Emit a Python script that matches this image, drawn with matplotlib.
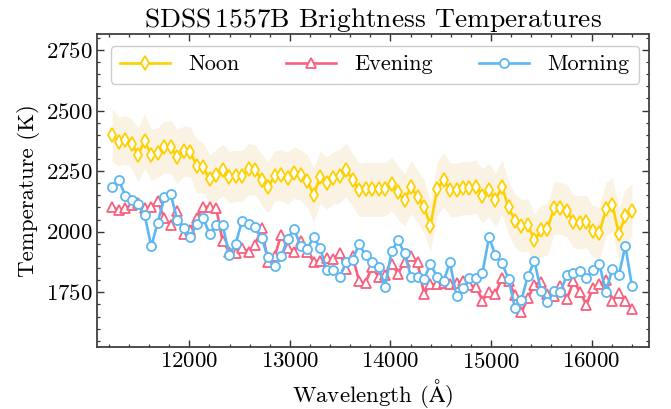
import matplotlib
matplotlib.use('Agg')
import matplotlib.pyplot as plt
from matplotlib.ticker import MultipleLocator
import numpy as np

wavelength = [11233, 11298, 11362, 11427, 11491, 11556, 11621, 11685, 11750, 11814,
              11879, 11944, 12008, 12073, 12137, 12202, 12267, 12331, 12396, 12460,
              12525, 12590, 12654, 12719, 12783, 12848, 12913, 12977, 13042, 13106,
              13171, 13236, 13300, 13365, 13429, 13494, 13559, 13623, 13688, 13752,
              13817, 13882, 13946, 14011, 14075, 14140, 14205, 14269, 14334, 14398,
              14463, 14528, 14592, 14657, 14721, 14786, 14851, 14915, 14980, 15044,
              15109, 15174, 15238, 15303, 15367, 15432, 15497, 15561, 15626, 15690,
              15755, 15820, 15884, 15949, 16013, 16078, 16143, 16207, 16272, 16336,
              16401]

noon = [2399, 2372, 2379, 2362, 2317, 2375, 2317, 2326, 2349, 2349, 2310, 2333, 2330, 2272, 2265,
        2217, 2234, 2255, 2225, 2230, 2230, 2259, 2255, 2214, 2184, 2230, 2234, 2221, 2244,
        2234, 2211, 2152, 2225, 2200, 2221, 2230, 2255, 2214, 2173, 2175, 2175, 2175, 2175, 2197,
        2162, 2131, 2184, 2145, 2104, 2024, 2175, 2214, 2173, 2173, 2180, 2180, 2186, 2148,
        2173, 2131, 2184, 2101, 2046, 2024, 2028, 1966, 2005, 2010, 2097, 2097, 2087, 2042,
        2038, 2042, 2001, 1994, 2093, 2111, 1991, 2065, 2087]

noon_err = [110, 100, 100, 102, 110, 113, 106, 103, 106, 110, 112, 103, 104, 110, 102,
            99, 106, 106, 107, 106, 105, 106, 103, 106, 105, 103, 105, 107, 106,
            103, 106, 113, 108, 108, 108, 110, 110, 108, 110, 112, 112, 112, 110, 110,
            110, 108, 110, 108, 110, 103, 110, 112, 112, 110, 110, 110, 110, 112,
            110, 110, 112, 110, 110, 108, 107, 107, 105, 107, 108, 108, 108, 108,
            110, 108, 106, 106, 110, 112, 108, 110, 110]

evening = [2101, 2090, 2097, 2111, 2118, 2097, 2101, 2125, 2056, 2028, 2087, 1991, 2008, 2056, 2101,
           2104, 2097, 1960, 1918, 1911, 1932, 1918, 1946, 2015, 1873, 1898, 1987, 1932, 1918,
           1960, 1918, 1877, 1880, 1891, 1886, 1912, 1846, 1898, 1797, 1788, 1856, 1812, 1822, 1868,
           1827, 1877, 1900, 1874, 1744, 1783, 1783, 1788, 1786, 1790, 1795, 1780, 1772, 1716,
           1753, 1744, 1808, 1795, 1740, 1667, 1726, 1781, 1791, 1744, 1733, 1777, 1722, 1795,
           1753, 1698, 1767, 1785, 1799, 1716, 1747, 1716, 1682]

morning = [2186, 2214, 2149, 2131, 2114, 2067, 1939, 2038, 2142, 2156, 2049, 2017, 1980, 2031, 2056,
           1990, 2028, 2028, 1905, 1950, 2046, 2031, 2021, 1973, 1894, 1857, 1898, 1971, 2010,
           1942, 1930, 1977, 1934, 1841, 1840, 1813, 1874, 1884, 1950, 1902, 1873, 1856, 1772, 1919,
           1965, 1911, 1813, 1813, 1806, 1865, 1815, 1796, 1873, 1733, 1767, 1807, 1807, 1830,
           1978, 1902, 1870, 1806, 1685, 1719, 1818, 1878, 1756, 1708, 1756, 1751, 1822, 1829,
           1836, 1808, 1843, 1866, 1751, 1847, 1822, 1942, 1778]

plt.rcParams['font.family'] = ['cmr10', 'DejaVu Serif']
plt.rcParams['mathtext.fontset'] = 'cm'
plt.rcParams['axes.formatter.use_mathtext'] = True

c_noon = '#FFD000'
c_even = '#F7617F'
c_morn = '#5CB8F2'

fig = plt.figure(figsize=(6.71, 4.09), dpi=100)
ax = fig.add_axes([0.145, 0.152, 0.822, 0.765])

wl = np.array(wavelength)
nn = np.array(noon)
ne = np.array(noon_err)
ax.fill_between(wl, nn - ne, nn + ne, color='#FAF3E4', lw=0, zorder=1)
ax.plot(wl, noon, color=c_noon, marker='d', mfc='white', mec=c_noon, ms=7.5, mew=1.3,
        lw=1.9, label='Noon', zorder=3)
ax.plot(wl, evening, color=c_even, marker='^', mfc='white', mec=c_even, ms=7, mew=1.3,
        lw=1.9, label='Evening', zorder=3)
ax.plot(wl, morning, color=c_morn, marker='o', mfc='white', mec=c_morn, ms=6.5, mew=1.3,
        lw=1.9, label='Morning', zorder=4)

ax.set_xlim(11084, 16570)
ax.set_ylim(1525, 2816)
ax.xaxis.set_major_locator(MultipleLocator(1000))
ax.xaxis.set_minor_locator(MultipleLocator(200))
ax.yaxis.set_major_locator(MultipleLocator(250))
ax.yaxis.set_minor_locator(MultipleLocator(50))
ax.tick_params(which='both', direction='in', top=True, right=True, colors='0.2',
               labelcolor='black', labelsize=16.5)
ax.tick_params(which='major', length=5, width=1.0)
ax.tick_params(which='minor', length=2.5, width=0.9)
for s in ax.spines.values():
    s.set_linewidth(1.3)
    s.set_color('0.25')

ax.set_xlabel(r'Wavelength ($\mathrm{\AA}$)', fontsize=16.5)
ax.set_ylabel('Temperature (K)', fontsize=16.5)
ax.set_title(r'SDSS$\,$1557B Brightness Temperatures', fontsize=19.8, pad=4)

leg = ax.legend(loc='upper center', bbox_to_anchor=(0.503, 0.963), borderaxespad=0,
                ncol=3, fontsize=16, frameon=True, fancybox=True,
                edgecolor='0.8', framealpha=1, handlelength=2.25, columnspacing=2.05,
                handletextpad=0.85, borderpad=0.42)

fig.savefig('out.png', dpi=100)
